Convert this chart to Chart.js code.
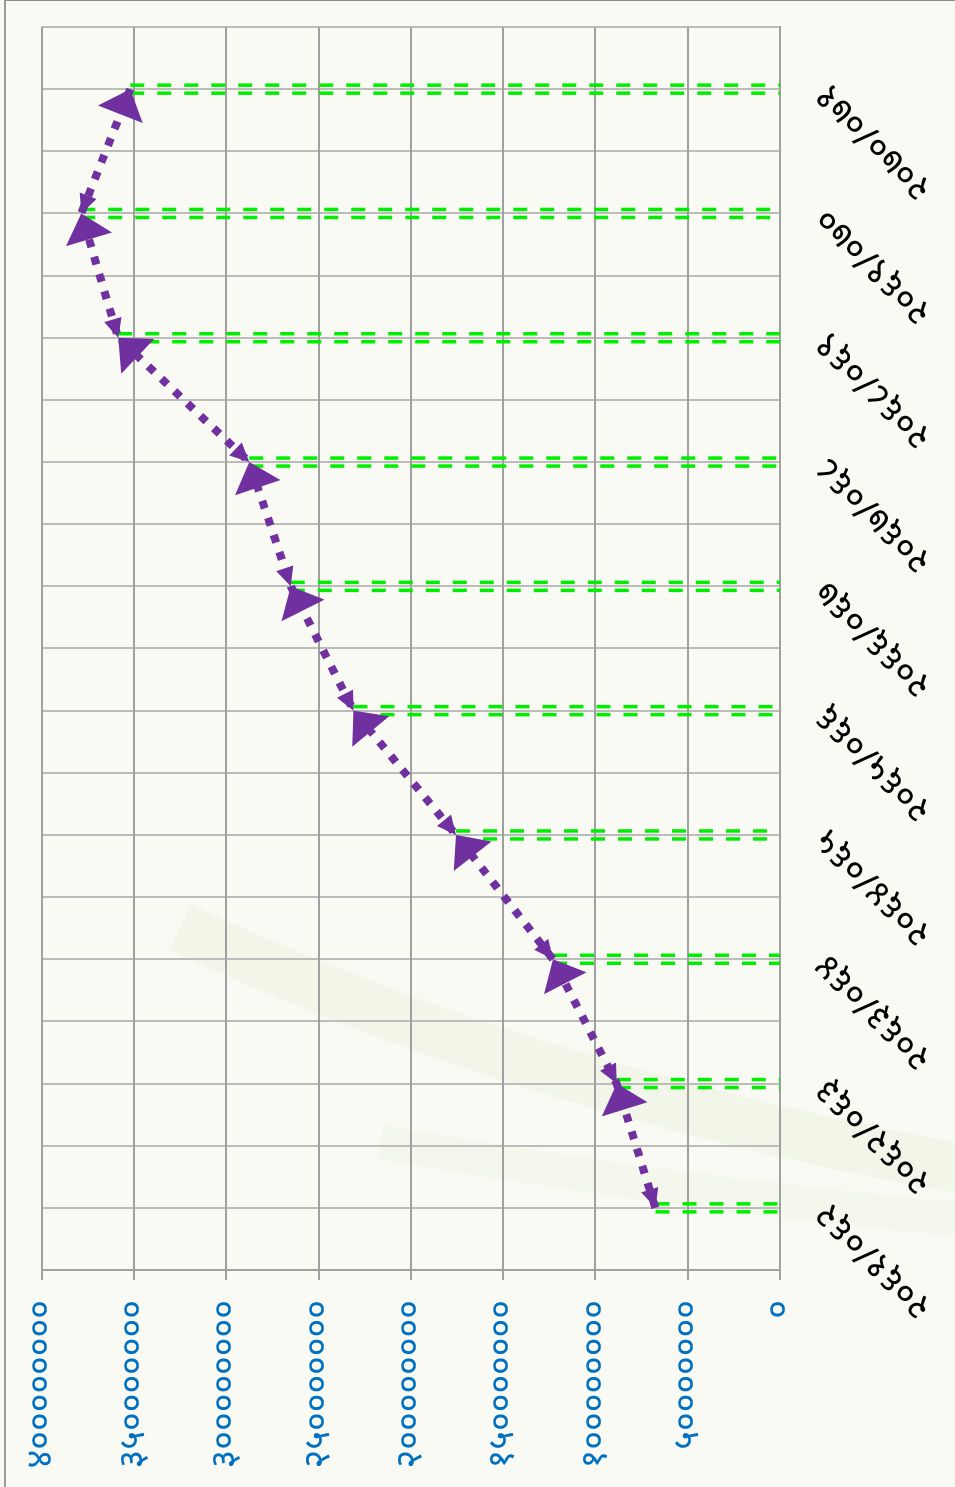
<!DOCTYPE html>
<html>
<head>
<meta charset="utf-8">
<script src="https://cdn.jsdelivr.net/npm/chart.js@4.4.1/dist/chart.umd.min.js"></script>
<style>
html,body{margin:0;padding:0;width:955px;height:1487px;overflow:hidden;background:#f8faf3;}
#wrap{position:absolute;left:0;top:0;width:1487px;height:955px;transform-origin:0 0;transform:translateY(1487px) rotate(-90deg);background:#f8faf3;}
#wrap canvas{position:absolute;left:0;top:0;}
#frame{position:absolute;left:0;top:4px;width:1487px;height:951px;box-sizing:border-box;border-top:2px solid #9a9a9a;border-right:1px solid #8a8a8a;pointer-events:none;}
</style>
</head>
<body>
<div id="wrap"><canvas id="c" width="1487" height="955"></canvas><div id="frame"></div></div>
<script>
// ---- data ----
const categories = ['२०६१/०६२','२०६२/०६३','२०६३/०६४','२०६४/०६५','२०६५/०६६','२०६६/०६७','२०६७/०६८','२०६८/०६९','२०६९/०७०','२०७०/०७१'];
const values = [67500000, 88500000, 123000000, 175500000, 231000000, 265000000, 287500000, 358500000, 378500000, 352000000];
const yTickValues = [0, 50000000, 100000000, 150000000, 200000000, 250000000, 300000000, 350000000, 400000000];
const yTickLabels = ['०','५०००००००','१००००००००','१५०००००००','२००००००००','२५०००००००','३००००००००','३५०००००००','४००००००००'];

const lineColor = '#7030a0';
const FONT = "'Noto Sans', 'Noto Sans Devanagari', 'Lohit Devanagari', 'FreeSans', sans-serif";

function tri(ctx, x, y, ux, uy, len, hw) {
  const bx = x - ux * len, by = y - uy * len;
  ctx.beginPath();
  ctx.moveTo(x, y);
  ctx.lineTo(bx - uy * hw, by + ux * hw);
  ctx.lineTo(bx + uy * hw, by - ux * hw);
  ctx.closePath();
  ctx.fill();
}

const bgPlugin = {
  id: 'bg',
  beforeDraw(chart) {
    const ctx = chart.ctx;
    ctx.save();
    ctx.strokeStyle = 'rgba(205,228,180,0.16)';
    ctx.lineWidth = 50;
    ctx.beginPath();
    ctx.moveTo(560, 180);
    ctx.quadraticCurveTo(400, 520, 318, 960);
    ctx.stroke();
    ctx.strokeStyle = 'rgba(215,232,195,0.13)';
    ctx.lineWidth = 34;
    ctx.beginPath();
    ctx.moveTo(345, 380);
    ctx.quadraticCurveTo(290, 700, 268, 960);
    ctx.stroke();
    ctx.restore();
  }
};

const dropPlugin = {
  id: 'drops',
  beforeDatasetsDraw(chart) {
    const ctx = chart.ctx;
    const y0 = chart.scales.y.getPixelForValue(0);
    const pts = chart.getDatasetMeta(0).data;
    ctx.save();
    ctx.strokeStyle = '#00ee00';
    ctx.lineWidth = 3.5;
    ctx.setLineDash([14, 13]);
    pts.forEach(p => {
      [-4, 4].forEach(o => {
        ctx.beginPath();
        ctx.moveTo(p.x + o, p.y);
        ctx.lineTo(p.x + o, y0);
        ctx.stroke();
      });
    });
    ctx.restore();
  }
};

const arrowPlugin = {
  id: 'arrows',
  afterDatasetsDraw(chart) {
    const ctx = chart.ctx;
    const pts = chart.getDatasetMeta(0).data;
    ctx.save();
    ctx.fillStyle = lineColor;
    for (let i = 0; i < pts.length - 1; i++) {
      const a = pts[i], b = pts[i + 1];
      const dx = b.x - a.x, dy = b.y - a.y, L = Math.hypot(dx, dy);
      const ux = dx / L, uy = dy / L;
      tri(ctx, b.x, b.y, ux, uy, 27, 24);
      tri(ctx, a.x, a.y, -ux, -uy, 19, 9);
    }
    ctx.restore();
  }
};

new Chart(document.getElementById('c'), {
  type: 'line',
  data: {
    labels: categories,
    datasets: [{
      data: values,
      borderColor: lineColor,
      borderWidth: 8,
      borderDash: [8, 10],
      borderCapStyle: 'butt',
      pointRadius: 0,
      fill: false,
      tension: 0
    }]
  },
  options: {
    responsive: false,
    animation: false,
    devicePixelRatio: 1,
    layout: { padding: { top: 40, right: 27, left: 0, bottom: 0 } },
    plugins: { legend: { display: false }, tooltip: { enabled: false } },
    scales: {
      x: {
        type: 'category',
        offset: true,
        grid: { offset: false, color: '#bcbcbc', lineWidth: 2, drawTicks: false },
        border: { display: true, color: '#a0a0a0', width: 2 },
        ticks: { autoSkip: false, minRotation: 45, maxRotation: 45, color: '#000', padding: 26, font: { size: 37, family: FONT } },
        afterFit(s) { s.height = 175; }
      },
      x2: {
        type: 'category',
        position: 'bottom',
        offset: true,
        grid: { offset: true, color: '#bcbcbc', lineWidth: 2, drawTicks: false },
        border: { display: false },
        ticks: { display: false },
        afterFit(s) { s.height = 0; }
      },
      y: {
        min: 0,
        max: 400000000,
        ticks: {
          stepSize: 50000000,
          color: '#0070c0',
          padding: 20,
          font: { size: 36, family: FONT },
          callback: (v) => yTickLabels[yTickValues.indexOf(v)]
        },
        grid: { color: '#a0a0a0', lineWidth: 2, tickLength: 10 },
        border: { color: '#a0a0a0', width: 2 },
        afterFit(s) { s.width = 217; }
      }
    }
  },
  plugins: [bgPlugin, dropPlugin, arrowPlugin]
});
</script>
</body>
</html>
